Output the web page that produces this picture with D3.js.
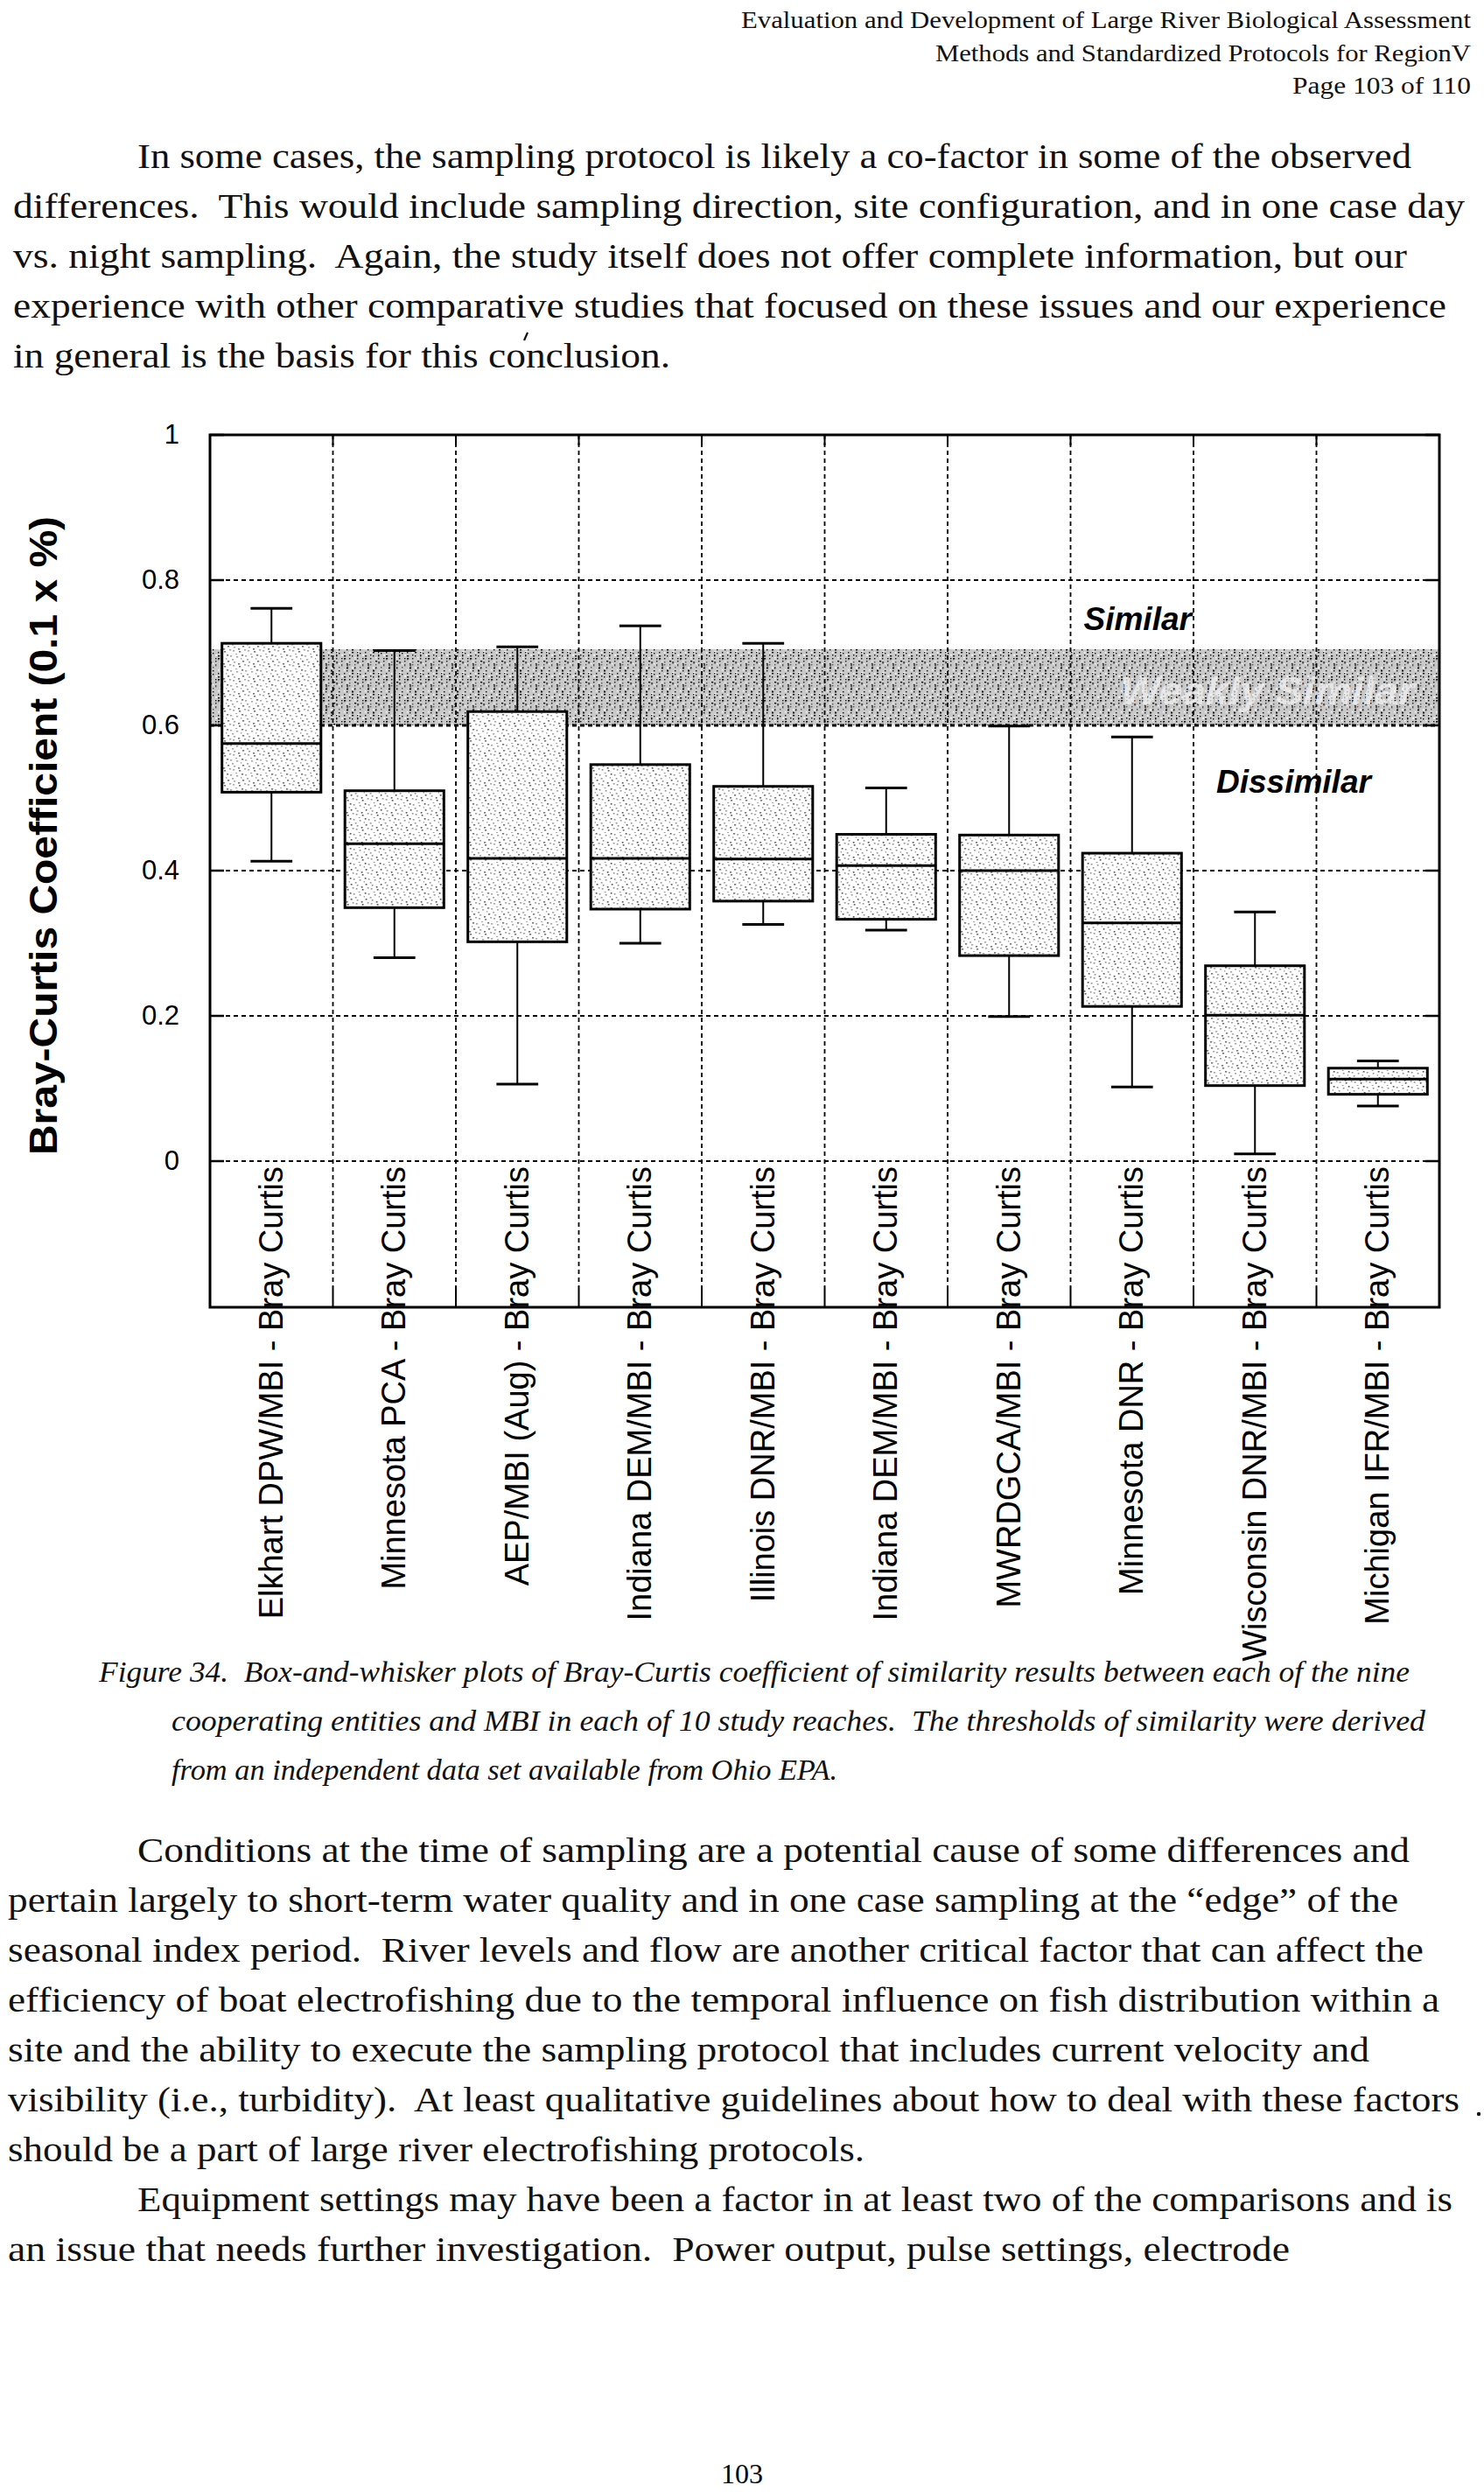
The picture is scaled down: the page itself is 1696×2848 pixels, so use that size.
<!DOCTYPE html>
<html><head><meta charset="utf-8">
<script src="https://cdn.jsdelivr.net/npm/d3@7"></script>
<style>body{margin:0;background:#fff} svg{display:block}</style>
</head><body>
<script>
// ---------- chart data ----------
const categories = [
  "Elkhart DPW/MBI - Bray Curtis", "Minnesota PCA - Bray Curtis", "AEP/MBI (Aug) - Bray Curtis",
  "Indiana DEM/MBI - Bray Curtis", "Illinois DNR/MBI - Bray Curtis", "Indiana DEM/MBI - Bray Curtis",
  "MWRDGCA/MBI - Bray Curtis", "Minnesota DNR - Bray Curtis", "Wisconsin DNR/MBI - Bray Curtis",
  "Michigan IFR/MBI - Bray Curtis"];
const whiskerHigh = [0.761, 0.703, 0.708, 0.737, 0.713, 0.514, 0.599, 0.584, 0.343, 0.138];
const q3Values    = [0.713, 0.510, 0.619, 0.546, 0.516, 0.450, 0.449, 0.424, 0.269, 0.128];
const medianValues= [0.575, 0.437, 0.417, 0.417, 0.416, 0.407, 0.400, 0.328, 0.201, 0.113];
const q1Values    = [0.508, 0.349, 0.302, 0.347, 0.358, 0.333, 0.283, 0.213, 0.104, 0.092];
const whiskerLow  = [0.413, 0.280, 0.106, 0.300, 0.326, 0.318, 0.199, 0.102, 0.010, 0.076];
const yTicks = [0, 0.2, 0.4, 0.6, 0.8, 1];
const yTickLabels = ["0", "0.2", "0.4", "0.6", "0.8", "1"];
const thresholdBand = [0.6, 0.705];
const zoneLabels = ["Similar", "Weakly Similar", "Dissimilar"];
const zoneValues = [0.731, 0.629, 0.507];
const yAxisTitle = "Bray-Curtis Coefficient (0.1 x %)";

// ---------- page text ----------
const headerLines = [
  "Evaluation and Development of Large River Biological Assessment",
  "Methods and Standardized Protocols for RegionV",
  "Page 103 of 110"];
const para1Lines = [
  "In some cases, the sampling protocol is likely a co-factor in some of the observed",
  "differences.  This would include sampling direction, site configuration, and in one case day",
  "vs. night sampling.  Again, the study itself does not offer complete information, but our",
  "experience with other comparative studies that focused on these issues and our experience",
  "in general is the basis for this conclusion."];
const captionLines = [
  "Figure 34.  Box-and-whisker plots of Bray-Curtis coefficient of similarity results between each of the nine",
  "cooperating entities and MBI in each of 10 study reaches.  The thresholds of similarity were derived",
  "from an independent data set available from Ohio EPA."];
const para2Lines = [
  "Conditions at the time of sampling are a potential cause of some differences and",
  "pertain largely to short-term water quality and in one case sampling at the \u201Cedge\u201D of the",
  "seasonal index period.  River levels and flow are another critical factor that can affect the",
  "efficiency of boat electrofishing due to the temporal influence on fish distribution within a",
  "site and the ability to execute the sampling protocol that includes current velocity and",
  "visibility (i.e., turbidity).  At least qualitative guidelines about how to deal with these factors",
  "should be a part of large river electrofishing protocols.",
  "Equipment settings may have been a factor in at least two of the comparisons and is",
  "an issue that needs further investigation.  Power output, pulse settings, electrode"];
const pageNumber = "103";

// ---------- layout (positions kept separate from data) ----------
const headerLayout = [[847, 1681, 32], [1069, 1681, 70], [1477, 1681, 107]];
const para1Layout = [[157, 1613, 192], [15, 1674, 249], [15, 1608, 306], [15, 1653, 363], [15, 766, 420]];
const captionLayout = [[113, 1611, 1922], [196, 1629, 1978], [196, 957, 2034]];
const para2Layout = [[157, 1611, 2128], [9, 1598, 2185], [9, 1627, 2242], [9, 1645, 2299], [9, 1565, 2356],
  [9, 1668, 2413], [9, 988, 2470], [157, 1660, 2527], [9, 1474, 2584]];

const W = 1696, H = 2848;
const svg = d3.select("body").append("svg").attr("width", W).attr("height", H);
svg.append("rect").attr("width", W).attr("height", H).attr("fill", "#fff");

const serif = "'Liberation Serif','Times New Roman',serif";
const sans = "'Liberation Sans',Arial,sans-serif";

function textBlock(lines, layout, size, italic) {
  const g = svg.append("g").attr("font-family", serif).attr("font-size", size)
    .attr("font-style", italic ? "italic" : "normal").attr("fill", "#111");
  g.selectAll("text").data(lines).join("text")
    .attr("x", (d, i) => layout[i][0]).attr("y", (d, i) => layout[i][2])
    .attr("textLength", (d, i) => layout[i][1] - layout[i][0])
    .attr("lengthAdjust", "spacingAndGlyphs")
    .style("white-space", "pre")
    .text(d => d);
}
textBlock(headerLines, headerLayout, 28, false);
textBlock(para1Lines, para1Layout, 40, false);
textBlock(captionLines, captionLayout, 34, true);
textBlock(para2Lines, para2Layout, 40, false);
svg.append("text").attr("x", 848).attr("y", 2838).attr("text-anchor", "middle")
  .attr("font-family", serif).attr("font-size", 32).text(pageNumber);
// small scan specks (marks, not text)
svg.append("circle").attr("cx", 1690).attr("cy", 2416).attr("r", 2.2).attr("fill", "#111");
svg.append("path").attr("d", "M603,380 L599,389").attr("stroke", "#111").attr("stroke-width", 2.2);

// ---------- chart ----------
const plot = {left: 240, right: 1645, top: 497, bottom: 1494};
const y = d3.scaleLinear().domain([0, 1]).range([1327, plot.top]);
const x = d3.scaleBand().domain(d3.range(categories.length)).range([plot.left, plot.right]);
const bw = x.bandwidth();
const boxW = bw * 0.805, capW = bw * 0.34;

const defs = svg.append("defs");
// stipple texture for the threshold band
const T = 24;
const pb = defs.append("pattern").attr("id", "stipple").attr("patternUnits", "userSpaceOnUse")
  .attr("width", T).attr("height", T);
pb.append("rect").attr("width", T).attr("height", T).attr("fill", "#c9c9c9");
for (let k = 0; k < 40; k++) {
  const px = (k * 7 + (k % 3) * 5) % T, py = (k * 11 + (k % 5) * 3) % T;
  pb.append("rect").attr("x", px).attr("y", py)
    .attr("width", k % 4 === 0 ? 2.2 : 1.4).attr("height", k % 6 === 0 ? 2.4 : 1.4)
    .attr("fill", k % 5 === 0 ? "#fff" : (k % 3 === 0 ? "#555" : "#111"));
}
// light dot texture for boxes
const B = 17;
const pbox = defs.append("pattern").attr("id", "boxdots").attr("patternUnits", "userSpaceOnUse")
  .attr("width", B).attr("height", B);
pbox.append("rect").attr("width", B).attr("height", B).attr("fill", "#fff");
for (let k = 0; k < 12; k++) {
  const px = (k * 5 + (k % 2) * 3) % B, py = (k * 7 + (k % 4)) % B;
  pbox.append("rect").attr("x", px).attr("y", py).attr("width", 1.6).attr("height", 1.6)
    .attr("fill", k % 3 === 0 ? "#444" : "#888");
}

const chart = svg.append("g");

// threshold band
chart.append("rect").attr("x", plot.left).attr("width", plot.right - plot.left)
  .attr("y", y(thresholdBand[1])).attr("height", y(thresholdBand[0]) - y(thresholdBand[1]))
  .attr("fill", "url(#stipple)");

// horizontal gridlines
chart.append("g").selectAll("line").data(yTicks.filter(t => t < 1)).join("line")
  .attr("x1", plot.left).attr("x2", plot.right).attr("y1", d => y(d)).attr("y2", d => y(d))
  .attr("stroke", "#000").attr("stroke-width", d => d === 0.6 ? 3 : 1.8).attr("stroke-dasharray", "5,4");
// left/right ticks
chart.append("g").selectAll("path").data(yTicks).join("path")
  .attr("d", d => `M${plot.left},${y(d)}h16M${plot.right},${y(d)}h-16`)
  .attr("stroke", "#000").attr("stroke-width", 2.5);
// vertical gridlines
const vIdx = d3.range(1, categories.length);
chart.append("g").selectAll("line").data(vIdx).join("line")
  .attr("x1", d => x(d)).attr("x2", d => x(d)).attr("y1", plot.top).attr("y2", plot.bottom - 24)
  .attr("stroke", "#000").attr("stroke-width", 1.8).attr("stroke-dasharray", "5,4");
chart.append("g").selectAll("path").data(vIdx).join("path")
  .attr("d", d => `M${x(d)},${plot.bottom}v-24M${x(d)},${plot.top}v12`)
  .attr("stroke", "#000").attr("stroke-width", 2);

// zone labels
const zoneX = [x(7) + 15, x(7) + 57, x(8) + 26];
chart.append("g").selectAll("text").data(zoneLabels).join("text")
  .attr("x", (d, i) => zoneX[i]).attr("y", (d, i) => y(zoneValues[i]))
  .attr("font-family", sans).attr("font-weight", "bold").attr("font-style", "italic")
  .attr("font-size", (d, i) => i === 1 ? 44 : 37)
  .attr("fill", (d, i) => i === 1 ? "#f4f4f4" : "#000")
  .attr("fill-opacity", (d, i) => i === 1 ? 0.7 : 1)
  .attr("textLength", (d, i) => i === 1 ? 336 : null)
  .attr("lengthAdjust", "spacingAndGlyphs")
  .text(d => d);

// boxes
const boxes = chart.append("g").selectAll("g").data(categories).join("g")
  .attr("transform", (d, i) => `translate(${x(i) + bw / 2},0)`);
boxes.append("line").attr("y1", (d, i) => y(q3Values[i])).attr("y2", (d, i) => y(whiskerHigh[i]))
  .attr("stroke", "#000").attr("stroke-width", 2);
boxes.append("line").attr("y1", (d, i) => y(q1Values[i])).attr("y2", (d, i) => y(whiskerLow[i]))
  .attr("stroke", "#000").attr("stroke-width", 2);
boxes.append("line").attr("x1", -capW / 2).attr("x2", capW / 2)
  .attr("y1", (d, i) => y(whiskerHigh[i])).attr("y2", (d, i) => y(whiskerHigh[i]))
  .attr("stroke", "#000").attr("stroke-width", 3);
boxes.append("line").attr("x1", -capW / 2).attr("x2", capW / 2)
  .attr("y1", (d, i) => y(whiskerLow[i])).attr("y2", (d, i) => y(whiskerLow[i]))
  .attr("stroke", "#000").attr("stroke-width", 3);
boxes.append("rect").attr("x", -boxW / 2).attr("width", boxW)
  .attr("y", (d, i) => y(q3Values[i])).attr("height", (d, i) => y(q1Values[i]) - y(q3Values[i]))
  .attr("fill", "url(#boxdots)").attr("stroke", "#000").attr("stroke-width", 3);
boxes.append("line").attr("x1", -boxW / 2).attr("x2", boxW / 2)
  .attr("y1", (d, i) => y(medianValues[i])).attr("y2", (d, i) => y(medianValues[i]))
  .attr("stroke", "#000").attr("stroke-width", 3);

// frame
chart.append("rect").attr("x", plot.left).attr("y", plot.top)
  .attr("width", plot.right - plot.left).attr("height", plot.bottom - plot.top)
  .attr("fill", "none").attr("stroke", "#000").attr("stroke-width", 3);

// y axis labels
const yAxis = chart.append("g").attr("transform", `translate(${plot.left},0)`)
  .call(d3.axisLeft(y).tickValues(yTicks).tickFormat((d, i) => yTickLabels[i]).tickSize(0).tickPadding(35));
yAxis.select(".domain").remove();
yAxis.selectAll("text").attr("font-family", sans).attr("font-size", 31).attr("fill", "#000");

// category labels (rotated, inside frame below 0)
const xAxis = chart.append("g").attr("transform", `translate(0,${y(0)})`)
  .call(d3.axisBottom(x).tickFormat(i => categories[i]).tickSize(0));
xAxis.select(".domain").remove();
xAxis.selectAll("text").attr("font-family", sans).attr("font-size", 38).attr("fill", "#000")
  .attr("x", -6).attr("y", 0).attr("dy", "0.33em").attr("transform", "rotate(-90)")
  .style("text-anchor", "end");

// y axis title
svg.append("text").attr("transform", "translate(65,955) rotate(-90)")
  .attr("text-anchor", "middle").attr("font-family", sans).attr("font-weight", "bold")
  .attr("font-size", 44).attr("textLength", 730).attr("lengthAdjust", "spacingAndGlyphs")
  .text(yAxisTitle);
</script>
</body></html>
